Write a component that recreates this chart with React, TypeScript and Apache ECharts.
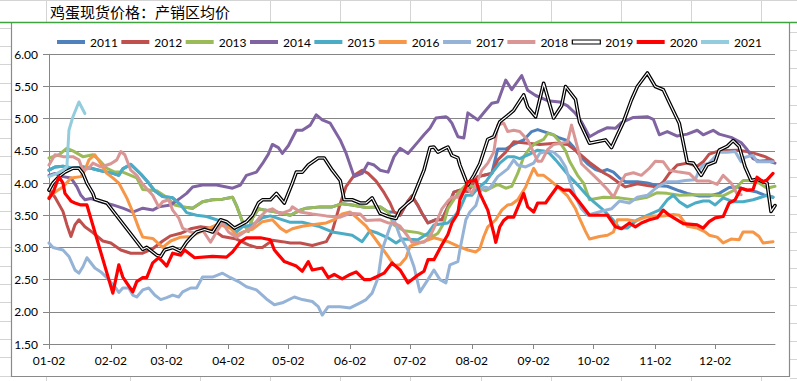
import { useEffect, useRef } from "react";
import * as echarts from "echarts";

// Daily categories for one (non-leap) year, starting 01-02
const dayLabels: string[] = [];
for (let i = 0; i < 365; i++) {
  const d = new Date(Date.UTC(2021, 0, 2 + i));
  dayLabels.push(
    String(d.getUTCMonth() + 1).padStart(2, "0") + "-" + String(d.getUTCDate()).padStart(2, "0")
  );
}

const tickLabels = ["01-02", "02-02", "03-02", "04-02", "05-02", "06-02", "07-02", "08-02", "09-02", "10-02", "11-02", "12-02"];
const seriesNames = ["2011", "2012", "2013", "2014", "2015", "2016", "2017", "2018", "2019", "2020", "2021"];
const titleText = "鸡蛋现货价格：产销区均价";

// [day offset from 01-02, price]
const y2011: [number, number][] = [[0,4.2],[3,4.25],[7,4.26],[12,4.23],[17,4.25],[21,4.23],[26,4.19],[32,4.15],[35,4.12],[37,4.22],[41,4.29],[46,4.14],[50,4.0],[53,3.88],[57,3.79],[62,3.77],[66,3.66],[67,3.63],[72,3.61],[77,3.71],[82,3.74],[87,3.75],[92,3.78],[94,3.65],[97,3.4],[100,3.25],[102,3.46],[105,3.6],[108,3.58],[114,3.55],[121,3.5],[126,3.58],[129,3.61],[136,3.63],[142,3.63],[147,3.68],[152,3.66],[159,3.62],[166,3.63],[170,3.55],[173,3.55],[176,3.5],[180,3.72],[182,3.8],[185,3.65],[187,3.53],[190,3.38],[194,3.43],[197,3.43],[200,3.63],[203,3.86],[206,3.89],[210,3.87],[215,4.1],[218,4.12],[222,4.15],[225,4.53],[229,4.53],[233,4.6],[238,4.67],[242,4.8],[245,4.83],[248,4.8],[252,4.76],[256,4.7],[260,4.66],[263,4.56],[266,4.43],[270,4.3],[274,4.21],[277,4.18],[280,4.21],[283,4.17],[286,4.08],[289,4.02],[295,4.02],[300,4.0],[305,3.96],[310,3.95],[316,3.88],[320,3.84],[326,3.8],[331,3.8],[336,3.84],[341,3.93],[345,3.94],[350,3.89],[355,3.86],[359,3.81],[363,3.78]];
const y2012: [number, number][] = [[0,3.9],[3,3.78],[7,3.56],[9,3.35],[11,3.17],[13,3.35],[15,3.43],[18,3.32],[22,3.23],[27,3.1],[31,3.07],[36,2.96],[41,2.91],[47,2.91],[52,2.98],[57,3.1],[61,3.18],[66,3.22],[71,3.29],[76,3.32],[81,3.3],[87,3.17],[94,3.13],[100,3.04],[104,3.0],[107,3.0],[112,3.11],[117,3.09],[121,3.07],[126,3.07],[132,3.03],[139,3.09],[142,3.25],[146,3.68],[149,3.95],[153,4.12],[157,4.2],[160,4.15],[164,4.03],[168,3.85],[171,3.69],[173,3.55],[176,3.5],[180,3.72],[182,3.8],[185,3.65],[187,3.53],[190,3.38],[194,3.43],[197,3.43],[200,3.63],[203,3.86],[206,3.89],[210,3.87],[215,4.1],[218,4.12],[222,4.15],[225,4.36],[229,4.48],[233,4.64],[240,4.62],[246,4.6],[254,4.62],[260,4.6],[265,4.48],[271,4.32],[278,4.16],[281,4.11],[285,4.02],[289,3.94],[295,3.99],[300,3.96],[305,3.94],[308,4.02],[311,4.15],[315,4.28],[320,4.31],[325,4.26],[328,4.33],[331,4.45],[336,4.5],[345,4.51],[350,4.49],[355,4.45],[359,4.41],[363,4.35]];
const y2013: [number, number][] = [[0,4.39],[5,4.44],[9,4.54],[12,4.5],[17,4.41],[22,4.44],[25,4.36],[29,4.23],[33,4.17],[37,4.17],[44,4.08],[47,3.9],[54,3.88],[59,3.78],[63,3.66],[67,3.63],[72,3.61],[77,3.71],[82,3.74],[87,3.75],[92,3.78],[94,3.65],[97,3.4],[100,3.25],[102,3.46],[105,3.6],[108,3.58],[114,3.55],[121,3.5],[126,3.58],[129,3.61],[136,3.63],[142,3.63],[147,3.68],[152,3.66],[159,3.62],[166,3.63],[170,3.55],[173,3.35],[178,3.26],[185,3.23],[190,3.18],[193,3.18],[195,3.22],[198,3.38],[200,3.6],[205,3.84],[209,3.97],[214,3.94],[219,3.88],[225,3.98],[229,3.92],[232,3.95],[235,4.15],[238,4.41],[241,4.54],[244,4.62],[248,4.68],[250,4.77],[253,4.75],[256,4.64],[259,4.5],[261,4.34],[265,4.12],[268,4.0],[271,3.74],[278,3.78],[286,3.77],[293,3.74],[300,3.78],[305,3.85],[310,3.84],[316,3.81],[325,3.82],[331,3.82],[338,3.8],[343,3.88],[348,4.04],[352,4.04],[356,4.0],[360,3.92],[364,3.95]];
const y2014: [number, number][] = [[0,4.12],[3,4.15],[7,4.1],[11,4.08],[14,3.94],[16,3.81],[18,3.74],[21,3.76],[26,3.71],[32,3.66],[37,3.61],[42,3.55],[47,3.61],[52,3.58],[55,3.63],[61,3.66],[66,3.77],[69,3.84],[72,3.94],[77,3.97],[84,3.97],[89,3.94],[92,3.92],[96,3.97],[99,4.12],[104,4.17],[107,4.3],[110,4.45],[112,4.6],[115,4.55],[117,4.46],[120,4.58],[124,4.82],[127,4.82],[131,4.9],[134,5.06],[137,4.98],[141,4.93],[146,4.67],[149,4.46],[153,4.1],[157,4.15],[160,4.31],[163,4.28],[166,4.2],[170,4.17],[173,4.41],[176,4.54],[180,4.46],[185,4.64],[188,4.75],[191,4.85],[194,5.01],[199,5.03],[200,5.01],[202,4.93],[205,4.72],[208,4.7],[210,5.09],[215,4.98],[219,5.13],[222,5.24],[225,5.26],[229,5.6],[232,5.45],[237,5.67],[240,5.44],[244,5.36],[250,5.28],[256,5.26],[260,5.2],[264,5.08],[267,4.95],[271,4.72],[275,4.79],[280,4.86],[284,4.85],[287,4.94],[293,5.02],[300,5.03],[303,4.99],[306,4.75],[310,4.8],[315,4.73],[320,4.76],[325,4.82],[328,4.75],[333,4.82],[336,4.76],[342,4.71],[347,4.63],[350,4.52],[353,4.38],[356,4.34],[360,4.35],[364,4.31]];
const y2015: [number, number][] = [[0,4.2],[3,4.25],[7,4.26],[12,4.23],[17,4.25],[21,4.23],[26,4.19],[32,4.15],[35,4.12],[37,4.22],[41,4.29],[46,4.14],[50,4.0],[53,3.88],[57,3.79],[62,3.77],[66,3.66],[69,3.54],[74,3.5],[79,3.48],[84,3.43],[87,3.4],[91,3.3],[94,3.24],[97,3.32],[102,3.35],[107,3.46],[111,3.49],[116,3.44],[121,3.39],[127,3.39],[135,3.33],[142,3.24],[146,3.22],[152,3.19],[157,3.09],[161,3.26],[165,3.22],[170,3.15],[174,3.07],[177,3.13],[185,3.12],[190,3.22],[193,3.35],[200,3.38],[203,3.47],[206,3.6],[209,3.81],[212,3.81],[215,3.92],[219,4.02],[222,4.15],[226,4.31],[230,4.41],[233,4.41],[236,4.38],[241,4.45],[245,4.51],[248,4.5],[251,4.46],[254,4.36],[257,4.25],[261,4.1],[266,3.94],[270,3.8],[273,3.71],[278,3.58],[283,3.42],[286,3.3],[290,3.3],[295,3.43],[300,3.5],[306,3.58],[310,3.74],[313,3.81],[316,3.71],[320,3.63],[324,3.69],[328,3.72],[331,3.72],[334,3.66],[338,3.77],[343,3.71],[348,3.71],[353,3.74],[357,3.78],[360,3.81],[363,3.78]];
const y2016: [number, number][] = [[0,3.78],[3,3.86],[7,3.94],[11,4.08],[16,4.1],[18,4.2],[20,4.36],[23,4.44],[26,4.3],[29,4.15],[32,4.08],[35,4.0],[39,3.77],[42,3.55],[45,3.3],[47,3.16],[52,3.14],[57,3.0],[61,3.1],[66,3.16],[71,3.17],[75,3.23],[79,3.28],[84,3.35],[87,3.34],[91,3.3],[94,3.19],[98,3.25],[102,3.28],[107,3.4],[112,3.43],[116,3.3],[119,3.24],[122,3.29],[127,3.33],[134,3.36],[139,3.38],[143,3.43],[147,3.52],[151,3.55],[154,3.47],[159,3.33],[162,3.2],[166,3.03],[170,2.86],[173,2.72],[176,2.73],[179,2.84],[181,3.02],[186,3.07],[193,3.15],[200,3.09],[205,3.02],[210,2.96],[214,2.93],[216,2.98],[218,3.17],[220,3.32],[224,3.43],[227,3.58],[230,3.66],[232,3.67],[235,3.74],[239,3.94],[240,4.02],[243,4.23],[245,4.12],[248,4.12],[251,4.05],[255,3.94],[260,3.8],[264,3.6],[266,3.45],[269,3.25],[271,3.13],[276,3.17],[280,3.19],[283,3.24],[285,3.43],[290,3.43],[294,3.41],[299,3.47],[303,3.49],[308,3.49],[313,3.51],[316,3.5],[320,3.33],[325,3.3],[329,3.24],[331,3.19],[335,3.16],[338,3.07],[342,3.13],[346,3.12],[348,3.24],[353,3.24],[356,3.17],[358,3.07],[363,3.09]];
const y2017: [number, number][] = [[0,3.07],[2,3.0],[7,2.96],[10,2.86],[13,2.65],[15,2.6],[17,2.7],[19,2.84],[23,2.68],[26,2.62],[29,2.53],[33,2.39],[35,2.3],[37,2.37],[40,2.37],[42,2.26],[44,2.23],[47,2.34],[50,2.37],[53,2.26],[56,2.19],[59,2.22],[62,2.26],[65,2.23],[67,2.31],[71,2.37],[74,2.37],[77,2.54],[82,2.54],[87,2.6],[91,2.53],[95,2.47],[99,2.39],[104,2.34],[109,2.2],[113,2.11],[117,2.14],[123,2.23],[127,2.19],[132,2.16],[135,2.08],[137,1.95],[140,2.08],[146,2.08],[151,2.06],[156,2.14],[159,2.19],[162,2.29],[165,2.53],[167,2.96],[171,3.32],[173,3.43],[176,3.17],[180,2.96],[183,2.7],[186,2.31],[190,2.5],[193,2.65],[196,2.5],[199,2.45],[201,2.73],[205,2.78],[206,2.96],[209,3.43],[211,3.55],[214,3.65],[216,3.86],[218,3.94],[221,3.92],[225,4.1],[230,4.22],[233,4.36],[235,4.28],[239,4.25],[243,4.31],[246,4.46],[250,4.5],[253,4.48],[256,4.4],[259,4.25],[261,4.04],[264,3.78],[267,3.6],[270,3.5],[278,3.57],[282,3.6],[286,3.72],[291,3.69],[295,3.78],[300,3.81],[305,3.94],[310,4.02],[315,4.02],[319,4.04],[324,4.05],[326,4.2],[328,4.28],[331,4.31],[336,4.48],[340,4.48],[344,4.49],[347,4.33],[349,4.4],[353,4.43],[355,4.33],[359,4.33],[363,4.33]];
const y2018: [number, number][] = [[0,4.28],[3,4.44],[7,4.41],[12,4.41],[15,4.36],[17,4.2],[20,4.23],[22,4.31],[26,4.25],[31,4.3],[34,4.36],[36,4.49],[38,4.44],[41,4.2],[44,4.12],[47,3.98],[52,3.81],[55,3.63],[57,3.71],[60,3.74],[62,3.58],[65,3.46],[67,3.3],[71,3.24],[74,3.22],[77,3.27],[81,3.08],[84,3.24],[87,3.38],[90,3.24],[94,3.16],[98,3.24],[102,3.32],[106,3.48],[109,3.57],[112,3.6],[116,3.52],[121,3.58],[122,3.63],[126,3.55],[132,3.52],[139,3.49],[146,3.47],[151,3.53],[156,3.52],[159,3.42],[166,3.43],[170,3.38],[173,3.38],[176,3.33],[180,3.17],[182,3.08],[185,3.08],[188,3.08],[191,3.17],[193,3.3],[195,3.45],[197,3.6],[200,3.72],[202,3.78],[205,3.78],[209,3.94],[212,3.84],[215,4.04],[217,4.2],[220,4.31],[223,4.48],[225,4.9],[228,4.93],[230,4.8],[233,4.82],[236,4.8],[240,4.67],[242,4.54],[245,4.34],[247,4.34],[250,4.52],[253,4.6],[257,4.62],[260,4.64],[262,4.9],[265,4.55],[267,4.3],[271,4.18],[276,4.03],[280,3.9],[283,3.78],[286,3.98],[289,4.13],[293,4.16],[297,4.12],[301,4.23],[304,4.34],[308,4.33],[311,4.2],[316,4.17],[321,4.15],[325,4.03],[331,4.03],[335,3.98],[338,4.12],[342,4.0],[345,3.83],[347,3.82]];
const y2019: [number, number][] = [[0,3.89],[2,4.0],[5,4.1],[8,4.17],[12,4.23],[15,4.23],[17,4.15],[19,4.0],[22,3.84],[23,3.75],[27,3.71],[29,3.69],[47,2.97],[49,3.0],[54,2.88],[56,2.86],[58,2.96],[62,3.0],[66,2.94],[69,3.08],[71,3.15],[74,3.24],[78,3.28],[82,3.24],[86,3.43],[89,3.4],[93,3.3],[96,3.35],[99,3.4],[102,3.5],[105,3.69],[107,3.74],[111,3.74],[114,3.84],[118,3.69],[122,4.0],[124,4.17],[127,4.17],[130,4.28],[135,4.39],[138,4.39],[142,4.2],[146,4.04],[148,3.74],[152,3.74],[156,3.69],[159,3.69],[162,3.77],[166,3.53],[170,3.48],[174,3.45],[176,3.58],[180,3.69],[182,3.74],[185,3.97],[188,4.2],[191,4.55],[193,4.56],[195,4.48],[198,4.53],[200,4.56],[202,4.43],[205,4.39],[206,4.28],[209,4.04],[210,3.97],[213,4.12],[216,4.3],[220,4.68],[223,4.72],[226,4.95],[230,5.05],[233,5.13],[238,5.37],[240,5.18],[244,5.03],[248,5.55],[253,5.01],[257,5.2],[259,5.5],[264,5.3],[266,4.95],[271,4.62],[279,4.67],[282,4.55],[285,4.75],[288,4.95],[292,5.29],[295,5.5],[300,5.71],[304,5.5],[308,5.45],[311,5.25],[316,4.93],[320,4.32],[323,4.31],[327,4.12],[330,4.28],[334,4.33],[336,4.51],[340,4.57],[343,4.66],[346,4.57],[349,4.25],[352,4.04],[355,4.06],[358,4.02],[360,4.0],[362,3.56],[364,3.65]];
const y2020: [number, number][] = [[0,3.76],[2,3.85],[5,4.1],[7,4.0],[8,3.84],[11,3.72],[13,3.69],[16,3.66],[19,3.66],[32,2.29],[35,2.73],[37,2.54],[42,2.31],[44,2.47],[47,2.53],[49,2.53],[52,2.76],[55,2.84],[57,2.78],[59,2.71],[62,2.91],[66,2.88],[68,2.96],[73,2.84],[82,2.86],[89,2.85],[92,2.93],[96,3.09],[99,3.15],[106,3.15],[111,3.12],[113,2.96],[118,2.78],[124,2.71],[127,2.63],[130,2.78],[132,2.65],[137,2.68],[140,2.53],[143,2.58],[147,2.51],[151,2.58],[154,2.62],[158,2.5],[161,2.5],[164,2.54],[168,2.6],[172,2.76],[176,2.65],[180,2.45],[184,2.55],[188,2.63],[190,2.81],[193,2.81],[197,3.04],[200,3.2],[202,3.38],[205,3.53],[206,3.74],[209,3.94],[210,4.02],[214,4.05],[216,3.84],[220,3.58],[223,3.22],[224,3.08],[226,3.32],[228,3.42],[230,3.47],[233,3.47],[238,3.84],[240,3.63],[243,3.55],[245,3.69],[249,3.69],[251,3.78],[255,3.95],[258,3.89],[261,3.89],[265,3.74],[271,3.5],[280,3.5],[284,3.32],[287,3.29],[291,3.38],[294,3.32],[297,3.38],[301,3.43],[305,3.46],[308,3.58],[311,3.5],[318,3.37],[325,3.35],[328,3.3],[331,3.4],[334,3.46],[338,3.48],[341,3.69],[344,3.74],[347,3.92],[350,3.89],[353,3.9],[355,4.09],[358,4.02],[360,4.05],[363,4.15]];
const y2021: [number, number][] = [[0,4.1],[4,4.15],[7,4.2],[9,4.26],[10,4.82],[12,5.03],[15,5.26],[18,5.08]];

const colors: Record<string, string> = {
  "2011": "#4F81BD", "2012": "#C0504D", "2013": "#9BBB59", "2014": "#8064A2",
  "2015": "#4BACC6", "2016": "#F79646", "2017": "#95B3D7", "2018": "#D99694",
  "2019": "#000000", "2020": "#FF0000", "2021": "#93CDDD",
};

const FONT = "Lato, 'Liberation Sans', sans-serif";

export default function App() {
  const ref = useRef<HTMLDivElement>(null);
  useEffect(() => {
    if (!ref.current) return;
    const chart = echarts.init(ref.current, undefined, { renderer: "svg" });

    const dataByName: Record<string, [number, number][]> = {
      "2011": y2011, "2012": y2012, "2013": y2013, "2014": y2014, "2015": y2015,
      "2016": y2016, "2017": y2017, "2018": y2018, "2019": y2019, "2020": y2020, "2021": y2021,
    };

    const series: any[] = [];
    seriesNames.forEach((name) => {
      series.push({
        type: "line",
        name,
        data: dataByName[name],
        showSymbol: false,
        symbol: "none",
        silent: true,
        color: colors[name],
        lineStyle: { width: name === "2020" ? 3.2 : name === "2019" ? 3.6 : 3, color: colors[name], cap: "round", join: "round" },
      });
      if (name === "2019") {
        series.push({
          type: "line",
          name: "2019-inner",
          data: dataByName[name],
          showSymbol: false,
          symbol: "none",
          silent: true,
          color: "#ffffff",
          lineStyle: { width: 1.1, color: "#ffffff", cap: "round", join: "round" },
        });
      }
    });

    const gridGray = "#d4d4d4";
    const graphics: any[] = [];
    [46, 270, 340, 410, 481, 551, 621, 691, 761].forEach((x) =>
      graphics.push({ type: "line", shape: { x1: x + 0.5, y1: 0, x2: x + 0.5, y2: 22 }, style: { stroke: gridGray, lineWidth: 1 }, z: -10 })
    );
    graphics.push({ type: "line", shape: { x1: 0, y1: 0.5, x2: 797, y2: 0.5 }, style: { stroke: gridGray, lineWidth: 1 }, z: -10 });
    [46, 130, 200, 270, 340, 410, 481, 551, 621, 691, 761].forEach((x) =>
      graphics.push({ type: "line", shape: { x1: x + 0.5, y1: 377, x2: x + 0.5, y2: 381 }, style: { stroke: gridGray, lineWidth: 1 }, z: -10 })
    );
    for (let k = 0; k < 20; k++) {
      const yl = 27.8 + 18.3 * k;
      const yr = 31.8 + 18.2 * k;
      graphics.push({ type: "line", shape: { x1: 0, y1: Math.round(yl) + 0.5, x2: 11, y2: Math.round(yl) + 0.5 }, style: { stroke: gridGray, lineWidth: 1 }, z: -10 });
      graphics.push({ type: "line", shape: { x1: 790, y1: Math.round(yr) + 0.5, x2: 797, y2: Math.round(yr) + 0.5 }, style: { stroke: gridGray, lineWidth: 1 }, z: -10 });
    }
    graphics.push({ type: "rect", shape: { x: 11.5, y: 22.5, width: 778, height: 354 }, style: { fill: "#ffffff", stroke: "#8a8a8a", lineWidth: 1.2 }, z: -5 });
    graphics.push({ type: "line", shape: { x1: 0, y1: 22.5, x2: 797, y2: 22.5 }, style: { stroke: "#3fa33f", lineWidth: 1.3 }, z: 10 });
    graphics.push({
      type: "text",
      x: 50,
      y: 11,
      style: { text: titleText, fill: "#000000", font: "15px 'Noto Sans CJK SC', sans-serif", verticalAlign: "middle", align: "left" },
      z: 10,
    });

    chart.setOption({
      animation: false,
      backgroundColor: "#ffffff",
      textStyle: { fontFamily: FONT },
      graphic: { elements: graphics },
      legend: {
        data: seriesNames.map((n) =>
          n === "2019"
            ? { name: n, itemStyle: { color: "#ffffff", borderColor: "#000000", borderWidth: 1.2 } }
            : { name: n }
        ),
        icon: "rect",
        itemWidth: 28,
        itemHeight: 4,
        itemGap: 3.5,
        left: 57,
        top: 36,
        padding: 0,
        selectedMode: false,
        textStyle: { fontSize: 12, color: "#000000", fontFamily: FONT },
      },
      grid: { left: 49, right: 22, top: 54.3, bottom: 37 },
      xAxis: {
        type: "category",
        data: dayLabels,
        boundaryGap: false,
        axisLine: { show: true, lineStyle: { color: "#868686", width: 1 } },
        axisTick: {
          show: true,
          length: 5,
          interval: (_i: number, v: string) => tickLabels.includes(v),
          lineStyle: { color: "#868686" },
        },
        axisLabel: {
          interval: (_i: number, v: string) => tickLabels.includes(v),
          margin: 10,
          fontSize: 12,
          color: "#000000",
          fontFamily: FONT,
        },
        splitLine: { show: false },
      },
      yAxis: {
        type: "value",
        min: 1.5,
        max: 6,
        interval: 0.5,
        axisLine: { show: true, lineStyle: { color: "#868686", width: 1 } },
        axisTick: { show: true, length: 6, lineStyle: { color: "#868686" } },
        axisLabel: {
          margin: 11,
          fontSize: 12,
          color: "#000000",
          fontFamily: FONT,
          formatter: (v: number) => v.toFixed(2),
        },
        splitLine: { show: true, lineStyle: { color: "#868686", width: 1 } },
      },
      series,
    });
    return () => chart.dispose();
  }, []);

  return (
    <div
      ref={ref}
      style={{ position: "absolute", left: 0, top: 0, width: 797, height: 381 }}
    />
  );
}
